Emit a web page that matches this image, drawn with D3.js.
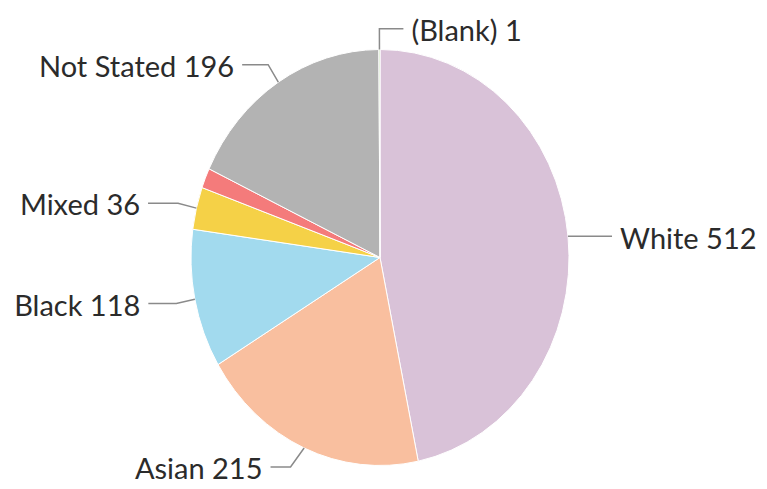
<!DOCTYPE html>
<html><head><meta charset="utf-8">
<script src="https://cdn.jsdelivr.net/npm/d3@7"></script>
<style>html,body{margin:0;padding:0;background:#fff;}</style>
</head><body>
<script>
const categories = ["White", "Asian", "Black", "Mixed", "Other", "Not Stated", "(Blank)"];
const values     = [512, 215, 118, 36, 17, 196, 1];
const showLabel  = [true, true, true, true, false, true, true];
const colors     = ["#D9C2D8", "#F9BF9F", "#A2DAEE", "#F5D147", "#F47B7B", "#B3B3B3", "#A9D18E"];
// layout tweaks for label leader lines
const labelSide  = [1, -1, -1, -1, -1, -1, 1];
const leaderRun  = [40, 20, 28, 30, 0, 26, 24];
const elbowShift = [0, -6, 0, 0, 0, 0, 0];

const W = 767, H = 489;
const cx = 380, cy = 257.5, rx = 189, ry = 208;

const svg = d3.select("body").append("svg").attr("width", W).attr("height", H)
  .style("font-family", "Lato, 'Open Sans', sans-serif");

const data = categories.map((c, i) => ({name: c, value: values[i], i}));
const pie = d3.pie().value(d => d.value).sort(null);
const arcs = pie(data);
const arc = d3.arc().innerRadius(0).outerRadius(rx);

const g = svg.append("g").attr("transform", `translate(${cx},${cy}) scale(1,${ry/rx})`);
g.selectAll("path").data(arcs).join("path")
  .attr("d", arc)
  .attr("fill", d => colors[d.data.i])
  .attr("stroke", "#fff")
  .attr("stroke-width", 1)
  .attr("vector-effect", "non-scaling-stroke");

const pt = (a, k) => [cx + rx * k * Math.sin(a), cy - ry * k * Math.cos(a)];

const lab = svg.append("g");
arcs.filter(d => showLabel[d.data.i]).forEach(d => {
  const i = d.data.i;
  const a = (d.startAngle + d.endAngle) / 2;
  const dir = labelSide[i];
  const p0 = pt(a, 1.0);
  let p1 = i === 0 ? [p0[0] + 4, p0[1]] : pt(a, 1.1);
  p1 = [p1[0] + elbowShift[i], p1[1]];
  const p2 = [p1[0] + dir * leaderRun[i], p1[1]];
  lab.append("path")
    .attr("d", d3.line()([p0, p1, p2]))
    .attr("fill", "none").attr("stroke", "#8a8a8a").attr("stroke-width", 1.5);
  lab.append("text")
    .attr("x", p2[0] + dir * 8)
    .attr("y", p2[1])
    .attr("dy", "0.42em")
    .attr("text-anchor", dir > 0 ? "start" : "end")
    .attr("font-size", 29)
    .attr("fill", "#2b2b2b")
    .text(`${d.data.name} ${d.data.value}`);
});
</script>
</body></html>
